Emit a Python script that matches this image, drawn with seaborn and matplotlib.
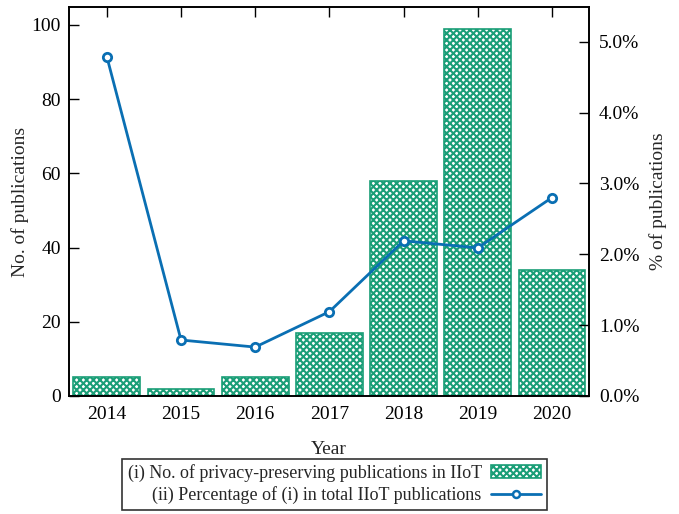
import numpy as np
import pandas as pd
import matplotlib
matplotlib.use('Agg')
import matplotlib.pyplot as plt
import seaborn as sns
from matplotlib.patches import Patch
from matplotlib.lines import Line2D

# data
years = ['2014', '2015', '2016', '2017', '2018', '2019', '2020']
pub_counts = [5, 2, 5, 17, 58, 99, 34]
pct_of_total = [4.79, 0.79, 0.69, 1.19, 2.19, 2.09, 2.80]

bar_label = '(i) No. of privacy-preserving publications in IIoT'
line_label = '(ii) Percentage of (i) in total IIoT publications'

green = '#1a9e77'
blue = '#0a6fb3'

sns.set_theme(style='ticks')
plt.rcParams['font.family'] = ['Liberation Serif', 'DejaVu Serif']
plt.rcParams['hatch.linewidth'] = 1.5
plt.rcParams['xtick.direction'] = 'in'
plt.rcParams['ytick.direction'] = 'in'

df = pd.DataFrame({'year': years, 'count': pub_counts, 'pct': pct_of_total})
df['pos'] = np.arange(len(years))

fig = plt.figure(figsize=(6.79, 5.14), dpi=100)
ax = fig.add_axes([0.1016, 0.2296, 0.7659, 0.7568])

sns.barplot(data=df, x='year', y='count', ax=ax, width=0.9,
            color='white', edgecolor=green, linewidth=1.2, hatch='xxxxx')
for p in ax.patches:
    p.set_facecolor('white')
    p.set_edgecolor(green)

ax.set_xlim(-0.51, 6.5)
ax.set_ylim(0, 104.8)
ax.set_yticks([0, 20, 40, 60, 80, 100])
ax.set_xlabel('Year', fontsize=14, labelpad=13)
ax.set_ylabel('No. of publications', fontsize=14, labelpad=2)
ax.tick_params(axis='both', labelsize=14, length=7, width=1, colors='black')
ax.tick_params(axis='x', top=True, bottom=False, pad=7)
ax.tick_params(axis='y', pad=6)

ax2 = ax.twinx()
sns.lineplot(data=df, x='pos', y='pct', ax=ax2, color=blue, linewidth=2,
             marker='o', markersize=6, markerfacecolor='white',
             markeredgecolor=blue, markeredgewidth=2)
ax2.set_ylim(0, 5.49)
ax2.set_yticks([0, 1, 2, 3, 4, 5])
ax2.set_yticklabels([f'{v:.1f}%' for v in [0, 1, 2, 3, 4, 5]])
ax2.set_ylabel('% of publications', fontsize=14, labelpad=7)
ax2.tick_params(axis='y', labelsize=14, length=7, width=1, colors='black', pad=7)
ax2.set_xlim(-0.51, 6.5)

for a in (ax, ax2):
    for s in a.spines.values():
        s.set_visible(True)
        s.set_color('black')
        s.set_linewidth(1.2)

handles = [Patch(facecolor='white', edgecolor=green, hatch='xxxxx', linewidth=1.2),
           Line2D([], [], color=blue, linewidth=2, marker='o', markersize=5,
                  markerfacecolor='white', markeredgecolor=blue, markeredgewidth=1.8)]
leg = fig.legend(handles, [bar_label, line_label], loc='lower center',
                 bbox_to_anchor=(0.4925, 0.003), borderaxespad=0.15,
                 markerfirst=False, fontsize=13,
                 frameon=True, fancybox=False, edgecolor='black',
                 handlelength=2.8, borderpad=0.3, labelspacing=0.25,
                 handletextpad=0.5)
leg.get_frame().set_linewidth(1.2)
for t in leg.get_texts():
    t.set_ha('right')

fig.savefig('out.png', dpi=100)
